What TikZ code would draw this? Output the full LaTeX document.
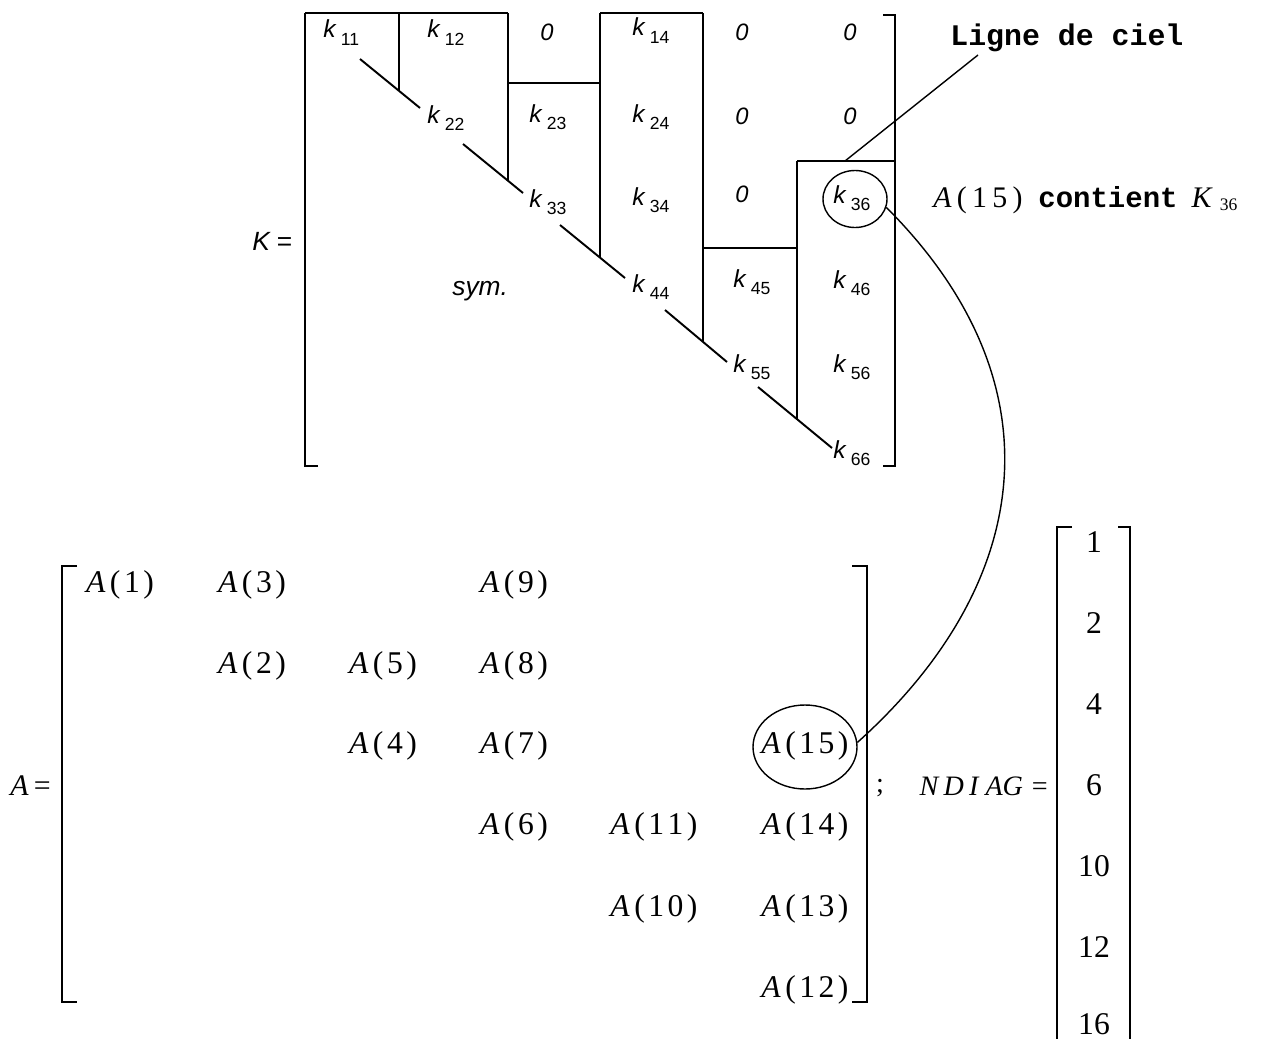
\documentclass[tikz,border=0pt]{standalone}
\usepackage{fontspec}
\setmainfont{Liberation Serif}
\newfontfamily\ksans{Liberation Sans}
\newfontfamily\monof{Liberation Mono}
\usetikzlibrary{shapes.geometric,calc}
\newcommand{\kij}[1]{{\ksans\fontsize{14}{14}\selectfont\itshape k}\kern3pt\raisebox{-4.5pt}{\ksans\fontsize{10}{10}\selectfont #1}}
\newcommand{\kzero}{{\ksans\fontsize{13.5}{13.5}\selectfont\itshape 0}}
\newcommand{\Ae}[1]{{\fontsize{18}{18}\selectfont\textit{A}\kern2.5pt(\kern2pt#1\kern2pt)}}
\newcommand{\nd}[1]{{\fontsize{18}{18}\selectfont #1}}
\tikzset{
  sky/.style={line width=1.3pt},
  brk/.style={line width=1.1pt},
  diag/.style={line width=1.1pt},
  conn/.style={line width=0.8pt},
  circ/.style={ellipse, draw, line width=0.8pt, inner sep=0pt},
  kl/.style={anchor=base west, inner sep=0pt},
  zl/.style={anchor=base, inner sep=0pt},
  al/.style={anchor=base, inner sep=0pt},
  nl/.style={anchor=base, inner sep=0pt},
}
\begin{document}
\begin{tikzpicture}[x=0.2mm,y=-0.2mm]
\useasboundingbox (0,0) rectangle (1270,1039);
% ---------- K matrix ----------
\node[anchor=base west, inner sep=0pt] (Klab) at (252,250) {\ksans\fontsize{15}{15}\selectfont\itshape K\kern4pt\upshape=};
\draw[brk] (318,466) -- (305,466) -- (305,13);
\draw[brk] (883,15) -- (895,15) -- (895,466) -- (883,466);
% skyline
\draw[sky] (305,13) -- (508,13);
\draw[sky] (399,13) -- (399,91);
\draw[sky] (508,13) -- (508,181);
\draw[sky] (508,83) -- (600,83);
\draw[sky] (600,13) -- (703,13);
\draw[sky] (600,13) -- (600,257);
\draw[sky] (703,13) -- (703,342);
\draw[sky] (703,248) -- (797,248);
\draw[sky] (797,161) -- (895,161);
\draw[sky] (797,161) -- (797,419);
% diagonal pieces
\draw[diag] (360,59) -- (420,108);
\draw[diag] (463,144) -- (523,193);
\draw[diag] (560,225) -- (625,278);
\draw[diag] (665,310) -- (727,362);
\draw[diag] (758,387) -- (832,448);
% entries row 1
\node[kl] (k11) at (323,38) {\kij{11}};
\node[kl] (k12) at (427,38) {\kij{12}};
\node[zl] (z13) at (547,40) {\kzero};
\node[kl] (k14) at (632,36) {\kij{14}};
\node[zl] (z15) at (742,40) {\kzero};
\node[zl] (z16) at (850,40) {\kzero};
% row 2
\node[kl] (k22) at (427,123) {\kij{22}};
\node[kl] (k23) at (529,122) {\kij{23}};
\node[kl] (k24) at (632,122) {\kij{24}};
\node[zl] (z25) at (742,124) {\kzero};
\node[zl] (z26) at (850,124) {\kzero};
% row 3
\node[kl] (k33) at (529,207) {\kij{33}};
\node[kl] (k34) at (632,205) {\kij{34}};
\node[zl] (z35) at (742,202) {\kzero};
\node[kl] (k36) at (833,203) {\kij{36}};
% row 4
\node[anchor=base west, inner sep=0pt] (sym) at (452,295) {\ksans\fontsize{15}{15}\selectfont\itshape sym.};
\node[kl] (k44) at (632,292) {\kij{44}};
\node[kl] (k45) at (733,287) {\kij{45}};
\node[kl] (k46) at (833,288) {\kij{46}};
% row 5
\node[kl] (k55) at (733,372) {\kij{55}};
\node[kl] (k56) at (833,372) {\kij{56}};
% row 6
\node[kl] (k66) at (833,458) {\kij{66}};
% ellipse around k36
\node[circ, minimum width=12.8mm, minimum height=11.4mm] (e36) at (855,199) {};
% Ligne de ciel
\node[anchor=base west, inner sep=0pt] (ligne) at (950,45) {\monof\bfseries\fontsize{17}{17}\selectfont Ligne de ciel};
\coordinate (skytop) at (845,161);
\coordinate (lcend) at (978,55);
\draw[conn] (skytop) -- (lcend);
% A(15) contient K36
\node[anchor=base west, inner sep=0pt] (contient) at (933,207) {{\fontsize{17}{17}\selectfont\textit{A}\kern3pt(\kern3pt1\kern3pt5\kern3pt)}\kern9pt{\monof\bfseries\fontsize{16.5}{16.5}\selectfont contient}\kern8pt{\fontsize{17}{17}\selectfont\textit{K}}\kern4pt\raisebox{-2pt}{\fontsize{10}{10}\selectfont 36}};
% ---------- A matrix ----------
\node[anchor=base west, inner sep=0pt] (Alab) at (10,795) {{\fontsize{17}{17}\selectfont\textit{A}\kern3pt=}};
\draw[brk] (77,566) -- (62,566) -- (62,1002) -- (77,1002);
\draw[brk] (852,566) -- (867,566) -- (867,1002) -- (852,1002);
\node[al] (a1) at (120,592) {\Ae{1}};
\node[al] (a3) at (252,592) {\Ae{3}};
\node[al] (a9) at (514,592) {\Ae{9}};
\node[al] (a2) at (252,673) {\Ae{2}};
\node[al] (a5) at (383,673) {\Ae{5}};
\node[al] (a8) at (514,673) {\Ae{8}};
\node[al] (a4) at (383,753) {\Ae{4}};
\node[al] (a7) at (514,753) {\Ae{7}};
\node[al] (a15) at (805,753) {\Ae{1\kern2pt5}};
\node[al] (a6) at (514,834) {\Ae{6}};
\node[al] (a11) at (654,834) {\Ae{1\kern2pt1}};
\node[al] (a14) at (805,834) {\Ae{1\kern2pt4}};
\node[al] (a10) at (654,916) {\Ae{1\kern2pt0}};
\node[al] (a13) at (805,916) {\Ae{1\kern2pt3}};
\node[al] (a12) at (805,997) {\Ae{1\kern2pt2}};
\node[circ, minimum width=20.8mm, minimum height=16.8mm] (e15) at (805,747) {};
% curve
\draw[conn] (e36.-15) .. controls +(176,176) and +(176,-158) .. (e15.5);
% semicolon and NDIAG
\node[anchor=base, inner sep=0pt] (semi) at (880,792) {{\fontsize{16}{16}\selectfont ;}};
\node[anchor=base east, inner sep=0pt] (ndlab) at (1048,795) {{\fontsize{16}{16}\selectfont\textit{N\kern3pt D\kern3pt I\kern4pt AG}\kern5pt=}};
\draw[brk] (1072,527) -- (1057,527) -- (1057,1039);
\draw[brk] (1118,527) -- (1130,527) -- (1130,1039);
\node[nl] (n1) at (1094,552) {\nd{1}};
\node[nl] (n2) at (1094,633) {\nd{2}};
\node[nl] (n3) at (1094,714) {\nd{4}};
\node[nl] (n4) at (1094,795) {\nd{6}};
\node[nl] (n5) at (1094,876) {\nd{10}};
\node[nl] (n6) at (1094,957) {\nd{12}};
\node[nl] (n7) at (1094,1034) {\nd{16}};
\end{tikzpicture}
\end{document}
